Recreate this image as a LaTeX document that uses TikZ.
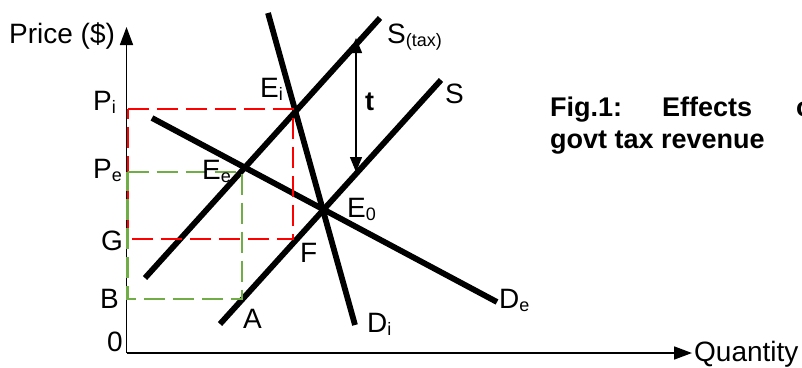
\documentclass[tikz,border=0pt]{standalone}
\usepackage{fontspec}
\setmainfont{Liberation Sans}
\usetikzlibrary{arrows.meta}
\definecolor{dgreen}{RGB}{112,173,71}
\newcommand{\lsub}[1]{\raisebox{-3pt}{\fontsize{18}{18}\selectfont #1}}
\begin{document}
\begin{tikzpicture}[x=1pt,y=-1pt,
  lbl/.style={anchor=base west, inner sep=0pt, font=\fontsize{28}{32}\selectfont},
  blbl/.style={anchor=base west, inner sep=0pt, font=\fontsize{27}{32}\selectfont\bfseries},
  curve/.style={line width=5.8pt, black},
  axisline/.style={line width=1.6pt, -{Triangle[length=18pt,width=13pt]}},
  reddash/.style={draw=red, line width=2.8pt, dash pattern=on 21pt off 8pt},
  greendash/.style={draw=dgreen, line width=2.8pt, dash pattern=on 21pt off 8pt},
  tarrow/.style={line width=1.3pt, {Triangle[length=15pt,width=12pt]}-{Triangle[length=15pt,width=12pt]}}
]
\clip (0,0) rectangle (802,367);
\fill[white] (0,0) rectangle (802,367);

% axes
\coordinate (O) at (126.5,353);
\coordinate (ytop) at (126.5,27);
\coordinate (xend) at (692,353);
\draw[axisline] (O) -- (ytop);
\draw[axisline] (O) -- (xend);

% curves
\coordinate (st1) at (145,278);  \coordinate (st2) at (380,18);
\coordinate (s1) at (220,324);   \coordinate (s2) at (441,80);
\coordinate (di1) at (268,13);   \coordinate (di2) at (355,325);
\coordinate (de1) at (152,118);  \coordinate (de2) at (497,302);
\draw[curve] (st1) -- (st2);
\draw[curve] (s1) -- (s2);
\draw[curve] (di1) -- (di2);
\draw[curve] (de1) -- (de2);

% dashed rectangles
\coordinate (ri1) at (128,109); \coordinate (ri2) at (293,109);
\coordinate (ri3) at (293,239); \coordinate (ri4) at (128,239);
\draw[reddash] (ri1) -- (ri2) -- (ri3) -- (ri4) -- cycle;
\coordinate (ge1) at (127.5,172); \coordinate (ge2) at (242,172);
\coordinate (ge3) at (242,299); \coordinate (ge4) at (127.5,299);
\draw[greendash] (ge1) -- (ge2) -- (ge3) -- (ge4) -- cycle;

% tax arrow
\coordinate (ttop) at (356,38);
\coordinate (tbot) at (356,172);
\draw[tarrow] (tbot) -- (ttop);

% labels
\node[lbl] (price) at (9,43) {Price (\$)};
\node[lbl] (pi) at (93,110) {P\lsub{i}};
\node[lbl] (pe) at (93,178) {P\lsub{e}};
\node[lbl] (g) at (101,250) {G};
\node[lbl] (b) at (100,308) {B};
\node[lbl] (zero) at (107,351) {0};
\node[lbl] (a) at (243,328) {A};
\node[lbl] (f) at (300,262) {F};
\node[lbl] (e0) at (347,217) {E\lsub{0}};
\node[lbl] (di) at (367,332) {D\lsub{i}};
\node[lbl] (de) at (499,308) {D\lsub{e}};
\node[lbl] (ee) at (202,179) {E\lsub{e}};
\node[lbl] (ei) at (260,97) {E\lsub{i}};
\node[lbl] (stax) at (387,43) {S\lsub{(tax)}};
\node[lbl] (s) at (445,103) {S};
\node[blbl] (t) at (365,110) {t};
\node[lbl] (qty) at (694,361) {Quantity};

% caption
\node[blbl] (fig1) at (550,116) {Fig.1:};
\node[blbl] (eff) at (662,116) {Effects};
\node[blbl] (of) at (796,116) {of};
\node[blbl] (govt) at (550,148) {govt tax revenue};
\end{tikzpicture}
\end{document}
